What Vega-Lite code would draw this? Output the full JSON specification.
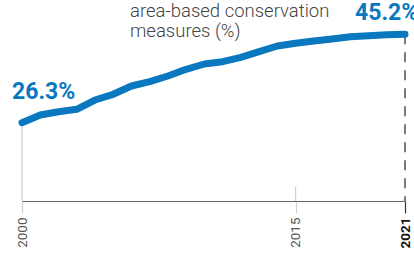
{
  "$schema": "https://vega.github.io/schema/vega-lite/v6.json",
  "width": 383,
  "height": 201,
  "autosize": "none",
  "padding": {"left": 22, "top": 0, "right": 9, "bottom": 52},
  "background": "white",
  "config": {"view": {"stroke": null}, "font": "Roboto"},
  "datasets": {
    "series": [
      {"year": 2000, "value": 26.3},
      {"year": 2001, "value": 27.95},
      {"year": 2002, "value": 28.65},
      {"year": 2003, "value": 29.17},
      {"year": 2004, "value": 31.15},
      {"year": 2005, "value": 32.37},
      {"year": 2006, "value": 34.15},
      {"year": 2007, "value": 35.07},
      {"year": 2008, "value": 36.28},
      {"year": 2009, "value": 37.72},
      {"year": 2010, "value": 38.85},
      {"year": 2011, "value": 39.34},
      {"year": 2012, "value": 40.28},
      {"year": 2013, "value": 41.48},
      {"year": 2014, "value": 42.7},
      {"year": 2015, "value": 43.28},
      {"year": 2016, "value": 43.77},
      {"year": 2017, "value": 44.2},
      {"year": 2018, "value": 44.69},
      {"year": 2019, "value": 44.9},
      {"year": 2020, "value": 45.1},
      {"year": 2021, "value": 45.2}
    ],
    "guides": [
      {"year": 2000, "top": 26.3, "bottom": 9.56, "kind": "grid"},
      {"year": 2015, "top": 12.6, "bottom": 9.56, "kind": "grid"}
    ],
    "endrule": [
      {"year": 2021, "top": 45.2, "bottom": 9.56}
    ],
    "labels": [
      {"year": 2000, "value": 26.3, "label": "26.3%", "which": "start"},
      {"year": 2021, "value": 45.2, "label": "45.2%", "which": "end"}
    ],
    "note": [
      {"year": 2005.92, "value": 48.9, "label": ["area-based conservation", "measures (%)"]}
    ]
  },
  "encoding": {
    "x": {
      "field": "year",
      "type": "quantitative",
      "scale": {"domain": [2000, 2021], "nice": false, "zero": false},
      "axis": {
        "title": null,
        "values": [2000, 2015, 2021],
        "format": "d",
        "grid": false,
        "domainColor": "#666666",
        "domainWidth": 1.2,
        "tickSize": 12,
        "tickColor": {"condition": {"test": "datum.value == 2021", "value": "#333333"}, "value": "#d0d0d0"},
        "tickWidth": 1.2,
        "labelAngle": -90,
        "labelAlign": "right",
        "labelBaseline": "middle",
        "labelPadding": 4,
        "labelFontSize": 13.5,
        "labelFont": "Roboto",
        "labelColor": {"condition": {"test": "datum.value == 2021", "value": "#111111"}, "value": "#555555"},
        "labelFontWeight": {"condition": {"test": "datum.value == 2021", "value": "bold"}, "value": "normal"},
        "labelFlush": false,
        "labelOverlap": false
      }
    }
  },
  "layer": [
    {
      "data": {"name": "guides"},
      "mark": {"type": "rule", "color": "#d0d0d0", "strokeWidth": 1.2},
      "encoding": {
        "y": {"field": "top", "type": "quantitative", "scale": {"domain": [9.56, 52.53], "nice": false, "zero": false}, "axis": null},
        "y2": {"field": "bottom"}
      }
    },
    {
      "data": {"name": "endrule"},
      "mark": {"type": "rule", "color": "#333333", "strokeWidth": 1.3, "strokeDash": [10, 8]},
      "encoding": {
        "y": {"field": "top", "type": "quantitative"},
        "y2": {"field": "bottom"}
      }
    },
    {
      "data": {"name": "series"},
      "mark": {"type": "line", "color": "#0a78bf", "strokeWidth": 7, "strokeCap": "round", "strokeJoin": "round"},
      "encoding": {
        "y": {"field": "value", "type": "quantitative"}
      }
    },
    {
      "data": {"name": "labels"},
      "transform": [{"filter": "datum.which == 'start'"}],
      "mark": {"type": "text", "align": "left", "baseline": "alphabetic", "dx": -10, "dy": -24, "fontSize": 23, "fontWeight": "bold", "color": "#0a78bf", "font": "Roboto"},
      "encoding": {
        "y": {"field": "value", "type": "quantitative"},
        "text": {"field": "label"}
      }
    },
    {
      "data": {"name": "labels"},
      "transform": [{"filter": "datum.which == 'end'"}],
      "mark": {"type": "text", "align": "left", "baseline": "alphabetic", "dx": -50, "dy": -14, "fontSize": 23, "fontWeight": "bold", "color": "#0a78bf", "font": "Roboto"},
      "encoding": {
        "y": {"field": "value", "type": "quantitative"},
        "text": {"field": "label"}
      }
    },
    {
      "data": {"name": "note"},
      "mark": {"type": "text", "align": "left", "baseline": "alphabetic", "fontSize": 18.5, "lineHeight": 20, "color": "#444444", "font": "Roboto", "fontWeight": 300},
      "encoding": {
        "y": {"field": "value", "type": "quantitative"},
        "text": {"field": "label"}
      }
    }
  ]
}
